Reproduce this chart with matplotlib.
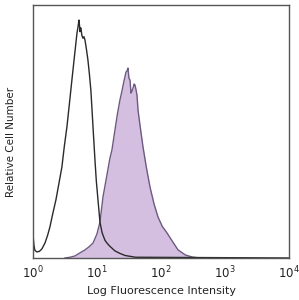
import matplotlib
matplotlib.use("Agg")
import matplotlib.pyplot as plt
import numpy as np

# control (unstained) histogram, x in log10 intensity, y in % of max scale
ctrl_log = [0.0, 0.008, 0.016, 0.031, 0.0625, 0.10, 0.141, 0.19, 0.23, 0.266,
            0.31, 0.359, 0.41, 0.453, 0.49, 0.531, 0.57, 0.609, 0.65, 0.688,
            0.705, 0.719, 0.728, 0.735, 0.743, 0.75, 0.765, 0.781, 0.797, 0.813,
            0.836, 0.859, 0.883, 0.906, 0.938, 0.969, 0.99, 1.016, 1.047, 1.08,
            1.125, 1.16, 1.203, 1.281, 1.36, 1.438, 1.6, 4.0]
ctrl_cnt = [10.3, 7.5, 5.1, 3.0, 2.4, 2.6, 3.6, 6.0, 9.0, 12.3,
            17.5, 22.9, 30.0, 36.0, 44.0, 51.8, 61.0, 70.4, 80.0, 88.9,
            91.5, 94.1, 92.0, 89.5, 91.0, 90.9, 88.0, 86.9, 87.5, 86.2,
            82.5, 78.3, 72.5, 66.0, 52.0, 38.7, 30.5, 23.0, 14.2, 10.0,
            7.0, 5.8, 4.6, 2.8, 1.8, 1.0, 0.3, 0.0]

# stained sample histogram
stain_log = [0.5, 0.58, 0.656, 0.72, 0.813, 0.88, 0.938, 1.0, 1.047, 1.094,
             1.15, 1.203, 1.234, 1.281, 1.32, 1.359, 1.39, 1.422, 1.44, 1.453,
             1.47, 1.484, 1.5, 1.516, 1.531, 1.547, 1.563, 1.58, 1.594, 1.61,
             1.625, 1.641, 1.68, 1.719, 1.77, 1.828, 1.89, 1.953, 2.02, 2.094,
             2.18, 2.266, 2.38, 2.484, 2.609]
stain_cnt = [0.0, 0.3, 0.8, 1.8, 3.2, 4.5, 5.9, 9.5, 14.2, 24.1,
             32.0, 39.5, 42.7, 50.6, 57.0, 62.5, 66.0, 70.0, 72.0, 73.5,
             74.0, 75.1, 71.0, 70.4, 65.2, 66.0, 67.2, 68.8, 68.4, 66.5,
             64.4, 58.5, 51.0, 43.9, 36.0, 28.1, 21.5, 16.2, 12.5, 9.9,
             6.5, 3.2, 1.2, 0.4, 0.0]

tick_pos = [1, 10, 100, 1000, 10000]
tick_lab = [r"$10^{0}$", r"$10^{1}$", r"$10^{2}$", r"$10^{3}$", r"$10^{4}$"]

fig = plt.figure(figsize=(2.99, 3.0), dpi=100)
ax = fig.add_axes([0.110, 0.14, 0.857, 0.843])

sx = 10 ** np.array(stain_log)
cx = 10 ** np.array(ctrl_log)
ax.fill_between(sx, stain_cnt, 0, color="#d5bfe0", linewidth=0)
ax.plot(sx, stain_cnt, color="#6d5a80", linewidth=1.0)
ax.plot(cx, ctrl_cnt, color="#2a2a2a", linewidth=1.0)

ax.set_xscale("log")
ax.set_xlim(1, 10000)
ax.set_ylim(0, 100)
ax.set_xticks(tick_pos)
ax.set_xticklabels(tick_lab, fontsize=8.5, color="#222222")
ax.minorticks_off()
ax.set_yticks([])
ax.tick_params(axis="x", length=0, pad=5)
for s in ax.spines.values():
    s.set_color("#555555")
    s.set_linewidth(1.0)

ax.set_xlabel("Log Fluorescence Intensity", fontsize=8, color="#222222", labelpad=3)
ax.set_ylabel("Relative Cell Number", fontsize=7.5, color="#222222")
ax.yaxis.set_label_coords(-0.065, 0.46)

fig.savefig("out.png", dpi=100)
